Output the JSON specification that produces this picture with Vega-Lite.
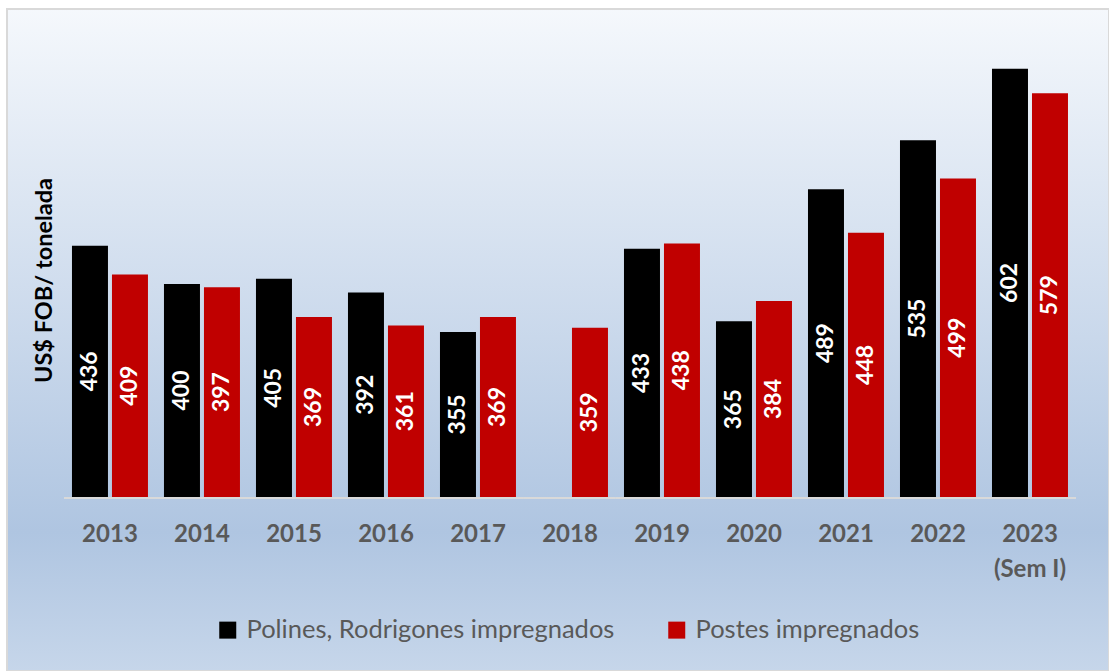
{
  "$schema": "https://vega.github.io/schema/vega-lite/v6.json",
  "autosize": {"type": "none"},
  "padding": {"left": 7, "top": 9, "right": 0, "bottom": 0},
  "width": 1102,
  "height": 662,
  "background": "#ffffff",
  "config": {
    "view": {
      "fill": {
        "gradient": "linear",
        "x1": 0, "y1": 0, "x2": 0, "y2": 1,
        "stops": [
          {"offset": 0, "color": "#f5f8fc"},
          {"offset": 0.79, "color": "#afc5e1"},
          {"offset": 1, "color": "#c6d6ea"}
        ]
      },
      "stroke": "#d9d9d9",
      "strokeWidth": 2
    },
    "font": "Lato"
  },
  "data": {
    "values": [
      {"year": "2013", "series": "Polines, Rodrigones impregnados", "value": 436},
      {"year": "2013", "series": "Postes impregnados", "value": 409},
      {"year": "2014", "series": "Polines, Rodrigones impregnados", "value": 400},
      {"year": "2014", "series": "Postes impregnados", "value": 397},
      {"year": "2015", "series": "Polines, Rodrigones impregnados", "value": 405},
      {"year": "2015", "series": "Postes impregnados", "value": 369},
      {"year": "2016", "series": "Polines, Rodrigones impregnados", "value": 392},
      {"year": "2016", "series": "Postes impregnados", "value": 361},
      {"year": "2017", "series": "Polines, Rodrigones impregnados", "value": 355},
      {"year": "2017", "series": "Postes impregnados", "value": 369},
      {"year": "2018", "series": "Postes impregnados", "value": 359},
      {"year": "2019", "series": "Polines, Rodrigones impregnados", "value": 433},
      {"year": "2019", "series": "Postes impregnados", "value": 438},
      {"year": "2020", "series": "Polines, Rodrigones impregnados", "value": 365},
      {"year": "2020", "series": "Postes impregnados", "value": 384},
      {"year": "2021", "series": "Polines, Rodrigones impregnados", "value": 489},
      {"year": "2021", "series": "Postes impregnados", "value": 448},
      {"year": "2022", "series": "Polines, Rodrigones impregnados", "value": 535},
      {"year": "2022", "series": "Postes impregnados", "value": 499},
      {"year": "2023 (Sem I)", "series": "Polines, Rodrigones impregnados", "value": 602},
      {"year": "2023 (Sem I)", "series": "Postes impregnados", "value": 579}
    ]
  },
  "encoding": {
    "x": {
      "field": "year",
      "type": "nominal",
      "scale": {
        "domain": ["2013", "2014", "2015", "2016", "2017", "2018", "2019", "2020", "2021", "2022", "2023 (Sem I)"],
        "paddingInner": 0.174,
        "paddingOuter": 0.576,
        "align": 0.613
      },
      "axis": {
        "title": null,
        "orient": "bottom",
        "offset": -174,
        "domain": false,
        "ticks": false,
        "grid": false,
        "labelAngle": 0,
        "labelPadding": 25,
        "labelFont": "Lato",
        "labelFontSize": 24,
        "labelFontWeight": "bold",
        "labelColor": "#595959",
        "labelLineHeight": 35,
        "labelExpr": "datum.label == '2023 (Sem I)' ? ['2023', '(Sem I)'] : datum.label"
      }
    }
  },
  "layer": [
    {
      "layer": [
        {
          "mark": {"type": "bar", "color": "#d9d9d9", "width": {"band": 1.21}},
          "encoding": {
            "y": {"datum": 198.1, "type": "quantitative", "scale": {"domain": [36.6, 658.2], "nice": false, "zero": false}},
            "y2": {"datum": 200}
          }
        },
        {
          "mark": {"type": "bar"},
          "encoding": {
            "xOffset": {
              "field": "series",
              "type": "nominal",
              "scale": {"domain": ["Polines, Rodrigones impregnados", "Postes impregnados"], "paddingInner": 0.1, "paddingOuter": 0}
            },
            "y": {
              "field": "value",
              "type": "quantitative",
              "scale": {"domain": [36.6, 658.2], "nice": false, "zero": false},
              "axis": {
                "title": "US$ FOB/ tonelada",
                "labels": false,
                "ticks": false,
                "domain": false,
                "grid": false,
                "titleX": 37,
                "titleY": 271,
                "titleAngle": -90,
                "titleAlign": "center",
                "titleBaseline": "middle",
                "titleFont": "Lato",
                "titleFontSize": 23.5,
                "titleFontWeight": "bold",
                "titleColor": "#000000"
              }
            },
            "y2": {"datum": 200},
            "color": {
              "field": "series",
              "type": "nominal",
              "scale": {"domain": ["Polines, Rodrigones impregnados", "Postes impregnados"], "range": ["#000000", "#c00000"]},
              "legend": {
                "title": null,
                "orient": "none",
                "direction": "horizontal",
                "columns": 2,
                "legendX": 208,
                "legendY": 608,
                "padding": 0,
                "symbolType": "square",
                "symbolSize": 289,
                "symbolStrokeWidth": 0,
                "symbolOpacity": 1,
                "labelOffset": 6,
                "columnPadding": 49,
                "labelFont": "Lato",
                "labelFontSize": 25.5,
                "labelColor": "#595959",
                "labelLimit": 600
              }
            }
          }
        }
      ]
    },
    {
      "mark": {"type": "text", "angle": -90, "align": "center", "baseline": "middle", "color": "#ffffff", "font": "Lato", "fontSize": 23, "fontWeight": "bold"},
      "encoding": {
        "xOffset": {"field": "series", "type": "nominal"},
        "y": {"field": "value", "type": "quantitative", "scale": {"domain": [-126.8, 1116.4], "nice": false, "zero": false}, "axis": null},
        "text": {"field": "value", "type": "quantitative"}
      }
    }
  ],
  "resolve": {"scale": {"y": "independent"}}
}
